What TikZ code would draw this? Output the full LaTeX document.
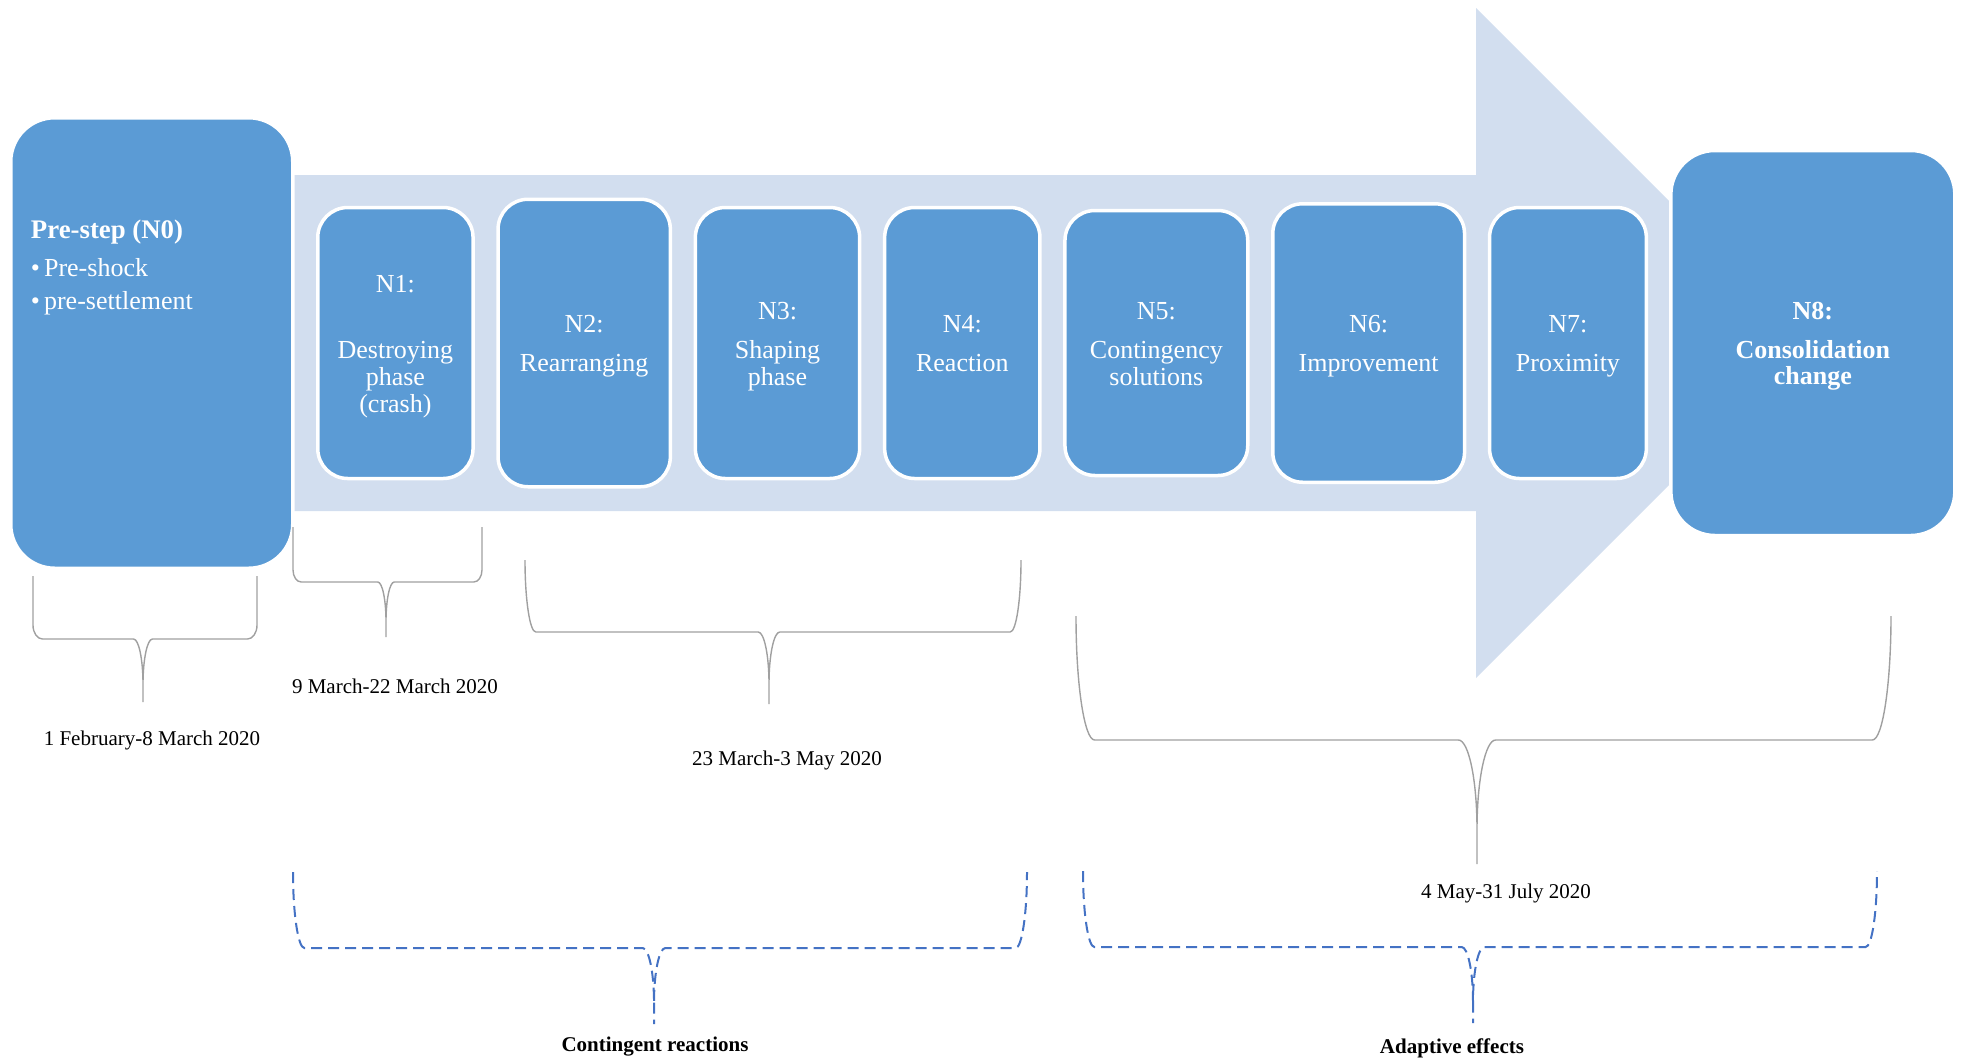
\documentclass[tikz,border=0pt]{standalone}
\usepackage{fontspec}
\setmainfont{Liberation Serif}
\usetikzlibrary{positioning}
\definecolor{smblue}{RGB}{91,155,213}
\definecolor{smlight}{RGB}{210,222,239}
\definecolor{smgray}{RGB}{160,160,160}
\definecolor{smdash}{RGB}{68,114,196}

% first line of a stage box, with a taller strut
\newcommand{\stagehead}[2][6.2pt]{\rule{0pt}{12pt}#2\\[#1]}
% descender strut for a last line without one
\newcommand{\stagetail}{\rule[-2.8pt]{0pt}{2.8pt}}

% brace: style, left, right, top, bar, middle, side bend
\newcommand{\spanbrace}[7]{%
  \pgfmathsetmacro{\brR}{0.15*(#5-#4)}%
  \pgfmathsetmacro{\brS}{#7*(#5-#4)}%
  \pgfmathsetmacro{\brC}{0.72*(#5-#4)}%
  \pgfmathsetmacro{\brT}{2*#5-#4}%
  \draw[#1] (#2,#4) -- (#2,#5-\brS)
    .. controls (#2,#5-0.448*\brS) and (#2+0.448*\brR,#5) .. (#2+\brR,#5)
    -- (#6-\brR,#5)
    .. controls (#6-0.448*\brR,#5) and (#6,#5+0.448*\brC) .. (#6,#5+\brC)
    .. controls (#6,#5+0.448*\brC) and (#6+0.448*\brR,#5) .. (#6+\brR,#5)
    -- (#3-\brR,#5)
    .. controls (#3-0.448*\brR,#5) and (#3,#5-0.448*\brS) .. (#3,#5-\brS)
    -- (#3,#4)
    (#6,#5+\brC) -- (#6,\brT);
}

\begin{document}
\begin{tikzpicture}[
    x=0.5pt, y=-0.5pt,
    node distance=10.75pt,
    phase/.style={draw=white, line width=1.75pt, fill=smblue, rounded corners=15pt, align=center, text=white, inner sep=2pt, font={\fontsize{13}{13.3}\selectfont}},
    endphase/.style={phase, rounded corners=22pt},
    datelabel/.style={inner sep=0pt, font={\fontsize{10.5}{12}\selectfont}},
    grouplabel/.style={inner sep=0pt, font={\fontsize{10.5}{12}\selectfont\bfseries}},
    datebrace/.style={draw=smgray, line width=0.7pt},
    groupbrace/.style={draw=smdash, line width=1pt, dash pattern=on 5.5pt off 3pt}
  ]
    \useasboundingbox (0,0) rectangle (1961,1062);

    % background arrow
    \fill[smlight] (294,175) -- (1476,175) -- (1476,8) -- (1811,343) -- (1476,678) -- (1476,511) -- (294,511) -- cycle;

    \node[endphase, minimum width=141pt, minimum height=225.25pt] (n0) at (151.75,343) {};
    \node[anchor=north west, align=left, text=white, inner sep=0pt, font={\fontsize{13}{16.25}\selectfont}] (n0text) at ([xshift=10.8pt, yshift=-51.5pt]n0.north west) {\textbf{\fontsize{13.4}{16.25}\selectfont Pre-step (N0)}\\[3.2pt]\textbullet\hspace{2pt}Pre-shock\\\textbullet\hspace{2pt}pre-settlement};
    \node[phase, minimum width=77.65pt, minimum height=135.5pt, right=of n0] (n1) {\stagehead[20pt]{N1:}Destroying\\phase\\(crash)};
    \node[phase, minimum width=86.15pt, minimum height=143.75pt, right=of n1] (n2) {\stagehead{N2:}Rearranging};
    \node[phase, minimum width=82.15pt, minimum height=135.5pt, right=of n2] (n3) {\stagehead{N3:}Shaping\\phase};
    \node[phase, minimum width=77.65pt, minimum height=135.5pt, right=of n3] (n4) {\stagehead{N4:}Reaction\stagetail};
    \node[phase, minimum width=91.4pt, minimum height=132.5pt, right=of n4] (n5) {\stagehead{N5:}Contingency\\solutions\stagetail};
    \node[phase, minimum width=95.9pt, minimum height=139.25pt, right=of n5] (n6) {\stagehead{N6:}Improvement};
    \node[phase, minimum width=78.4pt, minimum height=135.5pt, right=of n6] (n7) {\stagehead{N7:}Proximity};
    \node[endphase, font={\fontsize{13}{13.3}\selectfont\bfseries}, minimum width=142pt, minimum height=192.5pt, right=10.5pt of n7] (n8) {\stagehead{N8:}Consolidation\\change};

    % time spans
    \spanbrace{datebrace}{33}{257}{576}{639}{143}{0.22}
    \spanbrace{datebrace}{293}{482}{527}{582}{386}{0.22}
    \spanbrace{datebrace}{525}{1021}{560}{632}{769}{1}
    \spanbrace{datebrace}{1076}{1891}{616}{740}{1477}{1}
    \node[datelabel] (d0) at (152,740) {1 February-8 March 2020};
    \node[datelabel] (d1) at (395,686) {9 March-22 March 2020};
    \node[datelabel] (d2) at (787,760) {23 March-3 May 2020};
    \node[datelabel] (d3) at (1506,893) {4 May-31 July 2020};

    % groups
    \spanbrace{groupbrace}{293}{1027}{872}{948}{654}{1}
    \spanbrace{groupbrace}{1083}{1877}{871}{947}{1473}{1}
    \node[grouplabel] (g1) at (655,1047) {Contingent reactions};
    \node[grouplabel] (g2) at (1452,1048) {Adaptive effects};
  \end{tikzpicture}
\end{document}
